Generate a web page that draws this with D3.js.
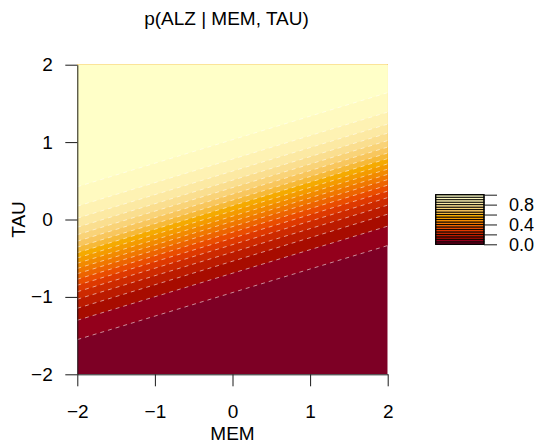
<!DOCTYPE html>
<html>
<head>
<meta charset="utf-8">
<script src="https://cdn.jsdelivr.net/npm/d3@7"></script>
<style>
  html, body { margin: 0; padding: 0; background: #fff; }
  svg { display: block; font-family: "Liberation Sans", Arial, Helvetica, sans-serif; }
</style>
</head>
<body>
<svg id="chart" width="540" height="444"></svg>
<script>
// ---- data ----
const title = "p(ALZ | MEM, TAU)";
const xLabel = "MEM";
const yLabel = "TAU";
const memTicks = [-2, -1, 0, 1, 2];
const tauTicks = [-2, -1, 0, 1, 2];
// contour levels of p(ALZ)
const levels = [0.05, 0.10, 0.15, 0.20, 0.25, 0.30, 0.35, 0.40, 0.45, 0.50,
                0.55, 0.60, 0.65, 0.70, 0.75, 0.80, 0.85, 0.90, 0.95];
// TAU where each contour crosses MEM = -2 and MEM = 2
const tauAtMemLow  = [-1.552, -1.302, -1.147, -1.030, -0.933, -0.849, -0.772, -0.700, -0.632, -0.565,
                      -0.497, -0.429, -0.357, -0.280, -0.196, -0.100, 0.017, 0.172, 0.423];
const tauAtMemHigh = [-0.336, -0.086, 0.069, 0.186, 0.283, 0.367, 0.444, 0.516, 0.584, 0.651,
                       0.719, 0.787, 0.859, 0.936, 1.020, 1.116, 1.233, 1.388, 1.639];
const keyBreaks = [0, 0.05, 0.10, 0.15, 0.20, 0.25, 0.30, 0.35, 0.40, 0.45, 0.50,
                   0.55, 0.60, 0.65, 0.70, 0.75, 0.80, 0.85, 0.90, 0.95, 1.0];
const keyTicks = [0, 0.2, 0.4, 0.6, 0.8, 1.0];
const keyLabelTicks = [0, 0.4, 0.8];

// ---- palette: sequential HCL "YlOrRd" (polar Luv) ----
function hclToHex(h, c, l) {
  const Xn = 95.047, Yn = 100.0, Zn = 108.883;
  const den = Xn + 15 * Yn + 3 * Zn;
  const un = 4 * Xn / den, vn = 9 * Yn / den;
  const hr = h * Math.PI / 180;
  const U = c * Math.cos(hr), V = c * Math.sin(hr);
  if (l <= 0) return "#000000";
  const Y = Yn * (l > 7.999592 ? Math.pow((l + 16) / 116, 3) : l / 903.3);
  const u = U / (13 * l) + un, v = V / (13 * l) + vn;
  const X = 9.0 * Y * u / (4 * v);
  const Z = -X / 3 - 5 * Y + 3 * Y / v;
  const xx = X / 100, yy = Y / 100, zz = Z / 100;
  const lin = [
     3.240479 * xx - 1.537150 * yy - 0.498535 * zz,
    -0.969256 * xx + 1.875992 * yy + 0.041556 * zz,
     0.055648 * xx - 0.204043 * yy + 1.057311 * zz
  ];
  const g = lin.map(t => {
    const s = t <= 0.0031308 ? 12.92 * t : 1.055 * Math.pow(t, 1 / 2.4) - 0.055;
    return Math.round(255 * Math.max(0, Math.min(1, s)));
  });
  return d3.rgb(g[0], g[1], g[2]).formatHex();
}
function ylOrRd(n) {
  const h1 = 5, h2 = 85, c1 = 75, c2 = 40, l1 = 25, l2 = 99, p1 = 1.6, p2 = 1.3, cmax = 180;
  const j = 1 / (1 + Math.abs(cmax - c1) / Math.abs(cmax - c2));
  const out = [];
  for (let k = 0; k < n; k++) {
    const i = 1 - k / (n - 1);
    const ip = Math.pow(i, p1);
    const c = ip <= j ? c2 + (cmax - c2) * ip / j : cmax + (c1 - cmax) * (ip - j) / (1 - j);
    out.push(hclToHex(h2 - (h2 - h1) * i, c, l2 - (l2 - l1) * Math.pow(i, p2)));
  }
  return out;
}
const colors = ylOrRd(keyBreaks.length - 1);

// ---- layout ----
const svg = d3.select("#chart");
const pLeft = 77.3, pRight = 387.7, pTop = 64.7, pBottom = 374.3;
const x = d3.scaleLinear().domain([-2, 2]).range([pLeft, pRight]);
const y = d3.scaleLinear().domain([-2, 2]).range([pBottom, pTop]);
const fontSize = 19;

svg.append("defs").append("clipPath").attr("id", "plotclip")
  .append("rect").attr("x", pLeft).attr("y", pTop)
  .attr("width", pRight - pLeft).attr("height", pBottom - pTop);

const plot = svg.append("g").attr("clip-path", "url(#plotclip)");
plot.append("rect").attr("x", pLeft).attr("y", pTop)
  .attr("width", pRight - pLeft).attr("height", pBottom - pTop)
  .attr("fill", colors[0]);

const line = d3.line().x(d => x(d[0])).y(d => y(d[1]));
levels.forEach((lv, k) => {
  const pts = [[-2.2, tauAtMemLow[k]], [-2, tauAtMemLow[k]], [2, tauAtMemHigh[k]], [2.2, tauAtMemHigh[k]], [2.2, 2.2], [-2.2, 2.2]];
  plot.append("path").attr("d", line(pts) + "Z").attr("fill", colors[k + 1]);
});
levels.forEach((lv, k) => {
  plot.append("path")
    .attr("d", line([[-2, tauAtMemLow[k]], [2, tauAtMemHigh[k]]]))
    .attr("fill", "none")
    .attr("stroke", "rgba(255,255,255,0.55)")
    .attr("stroke-width", 1)
    .attr("stroke-dasharray", "4,4");
});

// ---- axes ----
const xAxis = d3.axisBottom(x).tickValues(memTicks).tickSize(12).tickSizeOuter(0).tickPadding(18.5)
  .tickFormat(d3.format("d"));
const gx = svg.append("g").attr("transform", `translate(0,${pBottom})`).call(xAxis);
const yAxis = d3.axisLeft(y).tickValues(tauTicks).tickSize(12).tickSizeOuter(0).tickPadding(12.6)
  .tickFormat(d3.format("d"));
const gy = svg.append("g").attr("transform", `translate(${pLeft},0)`).call(yAxis);
[gx, gy].forEach(g => {
  g.selectAll("path.domain").attr("stroke", "#1a1a1a").attr("stroke-width", 1);
  g.selectAll(".tick line").attr("stroke", "#1a1a1a").attr("stroke-width", 1);
  g.selectAll(".tick text").attr("font-size", fontSize).attr("fill", "#000")
    .attr("font-family", '"Liberation Sans", Arial, sans-serif');
});

// ---- labels ----
svg.append("text").attr("x", 226.5).attr("y", 25).attr("text-anchor", "middle")
  .attr("font-size", fontSize).text(title);
svg.append("text").attr("x", (pLeft + pRight) / 2).attr("y", 440).attr("text-anchor", "middle")
  .attr("font-size", fontSize).text(xLabel);
svg.append("text").attr("transform", `translate(25,${y(0)}) rotate(-90)`).attr("text-anchor", "middle")
  .attr("font-size", fontSize).text(yLabel);

// ---- colour key ----
const kLeft = 435.7, kRight = 484;
const ky = d3.scaleLinear().domain([0, 1]).range([244.3, 194.7]);
const key = svg.append("g");
colors.forEach((c, k) => {
  key.append("rect")
    .attr("x", kLeft).attr("width", kRight - kLeft)
    .attr("y", ky(keyBreaks[k + 1])).attr("height", ky(keyBreaks[k]) - ky(keyBreaks[k + 1]))
    .attr("fill", c).attr("stroke", "#000").attr("stroke-width", 0.9);
});
key.append("rect").attr("x", kLeft).attr("y", ky(1)).attr("width", kRight - kLeft)
  .attr("height", ky(0) - ky(1)).attr("fill", "none").attr("stroke", "#000").attr("stroke-width", 1.2);
const kAxis = d3.axisRight(ky).tickValues(keyTicks).tickSize(13).tickSizeOuter(0).tickPadding(12)
  .tickFormat(d => keyLabelTicks.some(v => Math.abs(v - d) < 1e-9) ? d3.format(".1f")(d) : "");
const gk = svg.append("g").attr("transform", `translate(${kRight},0)`).call(kAxis);
gk.select("path.domain").remove();
gk.selectAll(".tick line").attr("stroke", "#1a1a1a");
gk.selectAll(".tick text").attr("font-size", 18).attr("fill", "#000")
  .attr("font-family", '"Liberation Sans", Arial, sans-serif');
</script>
</body>
</html>
